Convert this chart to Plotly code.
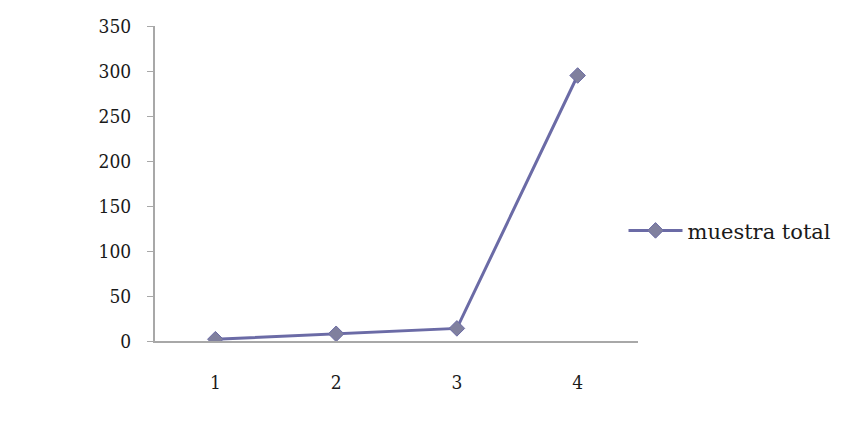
import plotly.graph_objects as go

# Series data
categories = [1, 2, 3, 4]
muestra_total = [2, 8, 14, 295]
y_ticks = [0, 50, 100, 150, 200, 250, 300, 350]

line_color = "#6b6ba6"
marker_color = "#80809e"
axis_color = "#a8a8a8"
tick_font = "DejaVu Serif Condensed, DejaVu Serif, serif"
legend_font = "DejaVu Serif, serif"

fig = go.Figure()
fig.add_trace(go.Scatter(
    x=categories,
    y=muestra_total,
    mode="lines+markers",
    name="muestra total",
    line=dict(color=line_color, width=3),
    marker=dict(symbol="diamond", size=12, color=marker_color,
                line=dict(color=line_color, width=1)),
))

fig.update_layout(
    width=852, height=423,
    margin=dict(l=155, r=214, t=26, b=82),
    paper_bgcolor="white",
    plot_bgcolor="white",
    font=dict(family=tick_font, size=19, color="#1a1a1a"),
    showlegend=True,
    legend=dict(x=0.97, y=0.35, xanchor="left", yanchor="middle",
                itemwidth=54,
                bgcolor="rgba(0,0,0,0)",
                font=dict(family=legend_font, size=21, color="#1a1a1a")),
)

fig.update_xaxes(
    range=[0.5, 4.5],
    tickvals=categories,
    ticktext=[str(c) for c in categories],
    showgrid=False, zeroline=False,
    showline=True, linecolor=axis_color, linewidth=2,
    ticks="", ticklabelstandoff=23,
)

fig.update_yaxes(
    range=[0, 350],
    tickvals=y_ticks,
    showgrid=False, zeroline=False,
    showline=True, linecolor=axis_color, linewidth=2,
    ticks="outside", ticklen=6, tickcolor=axis_color,
    ticklabelstandoff=12,
)

fig.write_html("out.html")
